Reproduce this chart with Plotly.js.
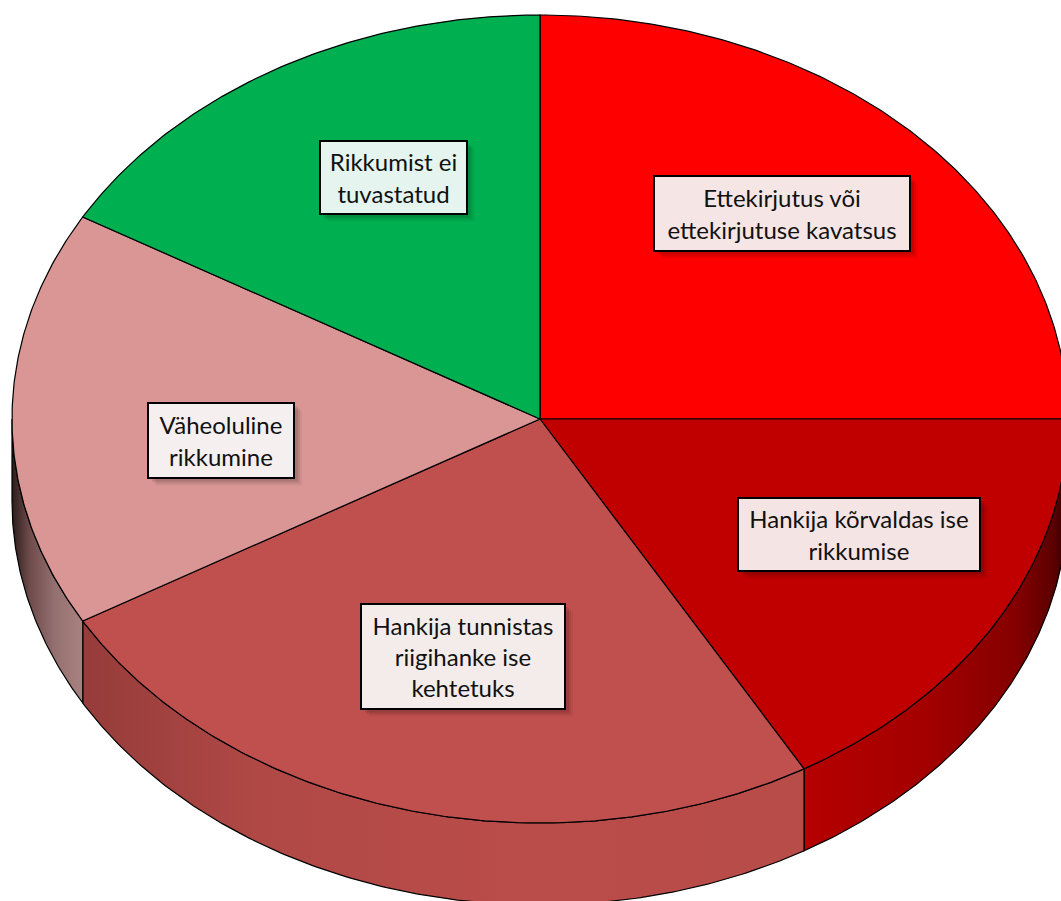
<!DOCTYPE html>
<html>
<head>
<meta charset="utf-8">
<script src="https://cdn.plot.ly/plotly-3.0.1.min.js"></script>
<style>html,body{margin:0;padding:0;background:#fff;}#chart{width:1061px;height:901px;}</style>
</head>
<body>
<div id="chart"></div>
<script>
// ---- data ----
const categories = [
  "Ettekirjutus või ettekirjutuse kavatsus",
  "Hankija kõrvaldas ise rikkumise",
  "Hankija tunnistas riigihanke ise kehtetuks",
  "Väheoluline rikkumine",
  "Rikkumist ei tuvastatud"
];
const values = [3, 2, 3, 2, 2];
const labelTexts = [
  "Ettekirjutus või<br>ettekirjutuse kavatsus",
  "Hankija kõrvaldas ise<br>rikkumise",
  "Hankija tunnistas<br>riigihanke ise<br>kehtetuks",
  "Väheoluline<br>rikkumine",
  "Rikkumist ei<br>tuvastatud"
];

// ---- styles / geometry ----
const topColors = ["#FF0000", "#C00000", "#C0504D", "#D99694", "#00B050"];
const boxColors = ["#F6E5E5", "#F5E4E4", "#F4ECEB", "#F5EFEF", "#E5F4EE"];
const wallScales = [
  [[0, "#E00000"], [1, "#900000"]],
  [[0, "#B50000"], [0.45, "#A40000"], [0.8, "#850000"], [0.95, "#5a0000"], [1, "#2a0000"]],
  [[0, "#963C3A"], [0.25, "#B04946"], [0.6, "#BA4C49"], [1, "#B84C49"]],
  [[0, "#2c1c1c"], [0.25, "#6e4c4b"], [0.6, "#93706f"], [1, "#A98281"]],
  [[0, "#009040"], [1, "#007030"]]
];
const W = 1061, H = 901;
const cx = 540, cy = 419, rx = 528, ry = 404, depth = 82;
const labelCenters = [[782, 213], [859, 534], [463, 656], [221, 440], [393, 177]];
const boxSizes = [[256, 75], [242, 73], [204, 105], [146, 75], [147, 73]];
const PAD = 4, BW = 2;

const total = values.reduce((a, b) => a + b, 0);
function pt(deg, dy) {
  const t = deg * Math.PI / 180;
  return [cx + rx * Math.sin(t), cy - ry * Math.cos(t) + (dy || 0)];
}

const wallTraces = [], topTraces = [];
let start = 0;
values.forEach((v, i) => {
  const end = start + v / total * 360;
  const xs = [cx], ys = [cy];
  for (let a = start; a <= end + 1e-9; a += 0.5) { const p = pt(a); xs.push(p[0]); ys.push(p[1]); }
  const pe = pt(end); xs.push(pe[0]); ys.push(pe[1]);
  xs.push(cx); ys.push(cy);
  topTraces.push({
    type: "scatter", mode: "lines", x: xs, y: ys, fill: "toself",
    fillcolor: topColors[i], line: { color: "#000", width: 1.2 },
    hoverinfo: "skip", name: categories[i]
  });
  const ws = Math.max(start, 90), we = Math.min(end, 270);
  if (we > ws + 1e-6) {
    const wx = [], wy = [], arc = [];
    for (let a = ws; a <= we + 1e-9; a += 0.5) arc.push(a);
    if (arc[arc.length - 1] < we) arc.push(we);
    arc.forEach(a => { const p = pt(a); wx.push(p[0]); wy.push(p[1]); });
    arc.slice().reverse().forEach(a => { const p = pt(a, depth); wx.push(p[0]); wy.push(p[1]); });
    wx.push(wx[0]); wy.push(wy[0]);
    const minx = Math.min(...wx), maxx = Math.max(...wx);
    wallTraces.push({
      type: "scatter", mode: "lines", x: wx, y: wy, fill: "toself",
      fillgradient: { type: "horizontal", colorscale: wallScales[i], start: minx, stop: maxx },
      line: { color: "#000", width: 1.2 }, hoverinfo: "skip", name: categories[i] + " wall"
    });
  }
  start = end;
});

const font = { family: "Lato, 'Open Sans', sans-serif", size: 24, color: "#111" };
const annotations = [], shapes = [];
labelTexts.forEach((t, i) => {
  const [x, y] = labelCenters[i];
  const [ow, oh] = boxSizes[i];
  [[8, 0.05], [6, 0.07], [4, 0.1]].forEach(([s, o]) => {
    shapes.push({
      type: "rect", xref: "x", yref: "y",
      x0: x - ow / 2 + s, x1: x + ow / 2 + s, y0: y - oh / 2 + s, y1: y + oh / 2 + s,
      fillcolor: "rgba(0,0,0," + o + ")", line: { width: 0 }, layer: "above"
    });
  });
  annotations.push({
    x: x, y: y, xref: "x", yref: "y", text: t, showarrow: false, font: font,
    width: ow - 2 * PAD - BW, height: oh - 2 * PAD - BW,
    bgcolor: boxColors[i], bordercolor: "#000", borderwidth: BW, borderpad: PAD, align: "center", valign: "middle"
  });
});

const layout = {
  width: W, height: H, margin: { l: 0, r: 0, t: 0, b: 0 },
  paper_bgcolor: "#fff", plot_bgcolor: "#fff", showlegend: false,
  xaxis: { range: [0, W], visible: false, fixedrange: true },
  yaxis: { range: [H, 0], visible: false, fixedrange: true },
  shapes: shapes,
  annotations: annotations
};
Plotly.newPlot("chart", wallTraces.concat(topTraces), layout, { staticPlot: true, displayModeBar: false });
</script>
</body>
</html>
